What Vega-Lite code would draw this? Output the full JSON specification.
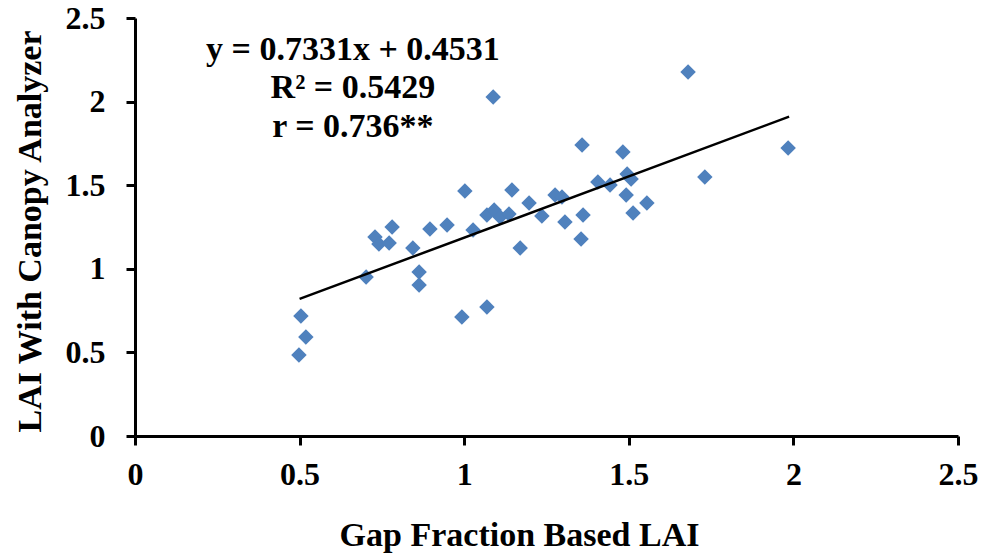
{
  "$schema": "https://vega.github.io/schema/vega-lite/v6.json",
  "width": 823,
  "height": 418,
  "autosize": {"type": "none"},
  "padding": {"left": 135, "top": 18, "right": 31, "bottom": 122},
  "background": "white",
  "config": {
    "view": {"stroke": null},
    "font": "Liberation Serif",
    "axis": {
      "grid": false,
      "domainColor": "black",
      "domainWidth": 3,
      "tickColor": "black",
      "tickWidth": 3,
      "tickSize": 9,
      "labelFont": "Liberation Serif",
      "labelFontWeight": "bold",
      "labelFontSize": 32,
      "labelColor": "black",
      "titleFont": "Liberation Serif",
      "titleFontWeight": "bold",
      "titleFontSize": 34,
      "titleColor": "black"
    }
  },
  "layer": [
    {
      "data": {"values": [
        {"gf": 0.498, "ca": 0.484}, {"gf": 0.504, "ca": 0.718}, {"gf": 0.519, "ca": 0.592},
        {"gf": 0.702, "ca": 0.951}, {"gf": 0.729, "ca": 1.19}, {"gf": 0.741, "ca": 1.148},
        {"gf": 0.772, "ca": 1.154}, {"gf": 0.781, "ca": 1.25}, {"gf": 0.844, "ca": 1.124},
        {"gf": 0.863, "ca": 0.981}, {"gf": 0.863, "ca": 0.903}, {"gf": 0.896, "ca": 1.238},
        {"gf": 0.948, "ca": 1.262}, {"gf": 0.993, "ca": 0.712}, {"gf": 1.002, "ca": 1.465},
        {"gf": 1.027, "ca": 1.232}, {"gf": 1.069, "ca": 1.322}, {"gf": 1.069, "ca": 0.772},
        {"gf": 1.088, "ca": 2.028}, {"gf": 1.091, "ca": 1.352}, {"gf": 1.109, "ca": 1.31},
        {"gf": 1.136, "ca": 1.328}, {"gf": 1.145, "ca": 1.471}, {"gf": 1.17, "ca": 1.124},
        {"gf": 1.197, "ca": 1.394}, {"gf": 1.236, "ca": 1.316}, {"gf": 1.276, "ca": 1.441},
        {"gf": 1.297, "ca": 1.429}, {"gf": 1.306, "ca": 1.28}, {"gf": 1.358, "ca": 1.74},
        {"gf": 1.355, "ca": 1.178}, {"gf": 1.361, "ca": 1.322}, {"gf": 1.406, "ca": 1.519},
        {"gf": 1.443, "ca": 1.501}, {"gf": 1.482, "ca": 1.699}, {"gf": 1.492, "ca": 1.441},
        {"gf": 1.495, "ca": 1.567}, {"gf": 1.507, "ca": 1.537}, {"gf": 1.513, "ca": 1.334},
        {"gf": 1.555, "ca": 1.394}, {"gf": 1.68, "ca": 2.177}, {"gf": 1.731, "ca": 1.549},
        {"gf": 1.984, "ca": 1.722}
      ]},
      "mark": {"type": "point", "shape": "diamond", "filled": true, "size": 240, "color": "#4F81BD", "opacity": 1},
      "encoding": {
        "x": {"field": "gf", "type": "quantitative", "scale": {"domain": [0, 2.5], "nice": false},
          "axis": {"title": "Gap Fraction Based LAI", "values": [0, 0.5, 1, 1.5, 2, 2.5], "format": "~g", "labelPadding": 14, "titlePadding": 28, "titleX": 384, "labelFlush": false}},
        "y": {"field": "ca", "type": "quantitative", "scale": {"domain": [0, 2.5], "nice": false},
          "axis": {"title": "LAI With Canopy Analyzer", "values": [0, 0.5, 1, 1.5, 2, 2.5], "format": "~g", "labelPadding": 21, "titlePadding": 18, "titleY": 213, "labelFlush": false}}
      }
    },
    {
      "data": {"values": [{"gf": 0.5, "ca": 0.8197}, {"gf": 1.987, "ca": 1.9098}]},
      "mark": {"type": "line", "color": "black", "strokeWidth": 2.5},
      "encoding": {
        "x": {"field": "gf", "type": "quantitative"},
        "y": {"field": "ca", "type": "quantitative"}
      }
    },
    {
      "data": {"values": [{"label": "eq"}]},
      "mark": {"type": "text", "align": "center", "baseline": "alphabetic", "font": "Liberation Serif", "fontWeight": "bold", "fontSize": 34, "lineHeight": 38.5, "color": "black"},
      "encoding": {
        "x": {"datum": 0.662, "type": "quantitative"},
        "y": {"datum": 2.249, "type": "quantitative"},
        "text": {"value": ["y = 0.7331x + 0.4531", "R² = 0.5429", "r = 0.736**"]}
      }
    }
  ]
}
